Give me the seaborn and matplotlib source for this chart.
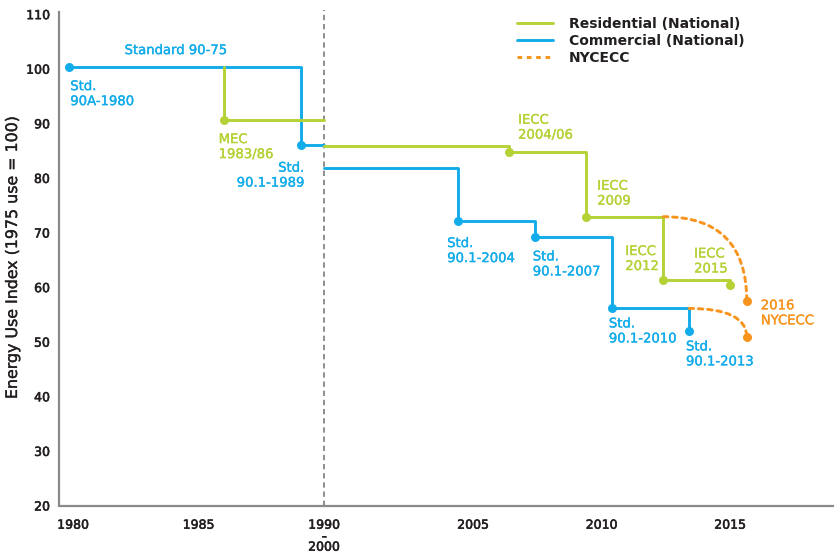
"""
Energy Use Index of national and NYC energy codes, 1980-2016
"""
import numpy as np
import pandas as pd
import matplotlib
matplotlib.use('Agg')
import matplotlib.pyplot as plt
import matplotlib.patheffects as pe
import seaborn as sns
from matplotlib.lines import Line2D

sns.set_theme(style='white')
plt.rcParams['font.family'] = ['DejaVu Sans']

GREEN = '#b4d235'
BLUE = '#12acea'
ORANGE = '#f7941d'
GREY = '#8a8a8a'
INK = '#231f20'

# ---- data (x = year, y = energy use index) ----
# residential (national): step path, left block 1980-1990 and right block 2000+
res_left_year = [1986.0, 1986.0, 1990.0]
res_left_eui = [100.3, 90.6, 90.6]
res_right_year = [2000.0, 2006.4, 2009.4, 2012.4, 2015.0]
res_right_eui = [85.8, 84.8, 72.9, 61.3, 60.3]
res_code_year = [1986.0, 2006.4, 2009.4, 2012.4, 2015.0]
res_code_eui = [90.6, 84.8, 72.9, 61.3, 60.3]
res_code_names = ['MEC\n1983/86', 'IECC\n2004/06', 'IECC\n2009', 'IECC\n2012', 'IECC\n2015']

# commercial (national)
com_left_year = [1979.85, 1989.1, 1990.0]
com_left_eui = [100.3, 86.1, 86.1]
com_right_year = [2000.0, 2004.5, 2007.4, 2010.4, 2013.4]
com_right_eui = [81.9, 72.1, 69.1, 56.1, 51.9]
com_code_year = [1979.85, 1989.1, 2004.5, 2007.4, 2010.4, 2013.4]
com_code_eui = [100.3, 86.1, 72.1, 69.1, 56.1, 51.9]
com_code_names = ['Std.\n90A-1980', 'Std.\n90.1-1989', 'Std.\n90.1-2004',
                  'Std.\n90.1-2007', 'Std.\n90.1-2010', 'Std.\n90.1-2013']

# NYCECC 2016 branches off the 2012 residential / 2010 commercial levels
nyc_from_year = [2012.4, 2013.4]
nyc_from_eui = [72.9, 56.1]
nyc_year = [2015.65, 2015.65]
nyc_eui = [57.4, 50.8]

tick_years = [1980, 1985, 1990, 2005, 2010, 2015]
tick_labels = ['1980', '1985', '1990\n-\n2000', '2005', '2010', '2015']
y_ticks = [20, 30, 40, 50, 60, 70, 80, 90, 100, 110]

# broken axis: 1990 and 2000 share the same spot
YEAR_KNOTS = [1970, 1990, 2000, 2005, 2015, 2030]
POS_KNOTS = [1970, 1990, 1990, 1995.94, 2006.18, 2021.54]


def pos(years):
    return np.interp(years, YEAR_KNOTS, POS_KNOTS)


def steps(years, eui, part):
    return pd.DataFrame({'x': pos(years), 'eui': eui, 'part': part})


def medium(color, w=0.25):
    # DejaVu has no medium weight, thicken the book face a little
    return [pe.withStroke(linewidth=w, foreground=color)]


fig = plt.figure(figsize=(8.4, 5.53), dpi=100)
ax = fig.add_axes([59 / 840, 47.5 / 553, 774 / 840, 493 / 553])

res_df = pd.concat([steps(res_left_year, res_left_eui, 'a'),
                    steps(res_right_year, res_right_eui, 'b')])
com_df = pd.concat([steps(com_left_year, com_left_eui, 'a'),
                    steps(com_right_year, com_right_eui, 'b')])

for df, col in [(com_df, BLUE), (res_df, GREEN)]:
    sns.lineplot(data=df, x='x', y='eui', units='part', estimator=None, sort=False,
                 drawstyle='steps-post', color=col, lw=2.1, ax=ax, legend=False)

# NYCECC dotted branches
for x0, y0, x1, y1 in zip(nyc_from_year, nyc_from_eui, nyc_year, nyc_eui):
    ax.annotate('', xy=(pos(x1), y1), xytext=(pos(x0), y0),
                arrowprops=dict(arrowstyle='-', color=ORANGE, lw=2.1,
                                linestyle=(0, (1.6, 1.6)), shrinkA=0, shrinkB=0,
                                connectionstyle='angle3,angleA=0,angleB=90'))

sns.scatterplot(x=pos(com_code_year), y=com_code_eui, color=BLUE, s=42, linewidth=0, ax=ax, zorder=4)
sns.scatterplot(x=pos(res_code_year), y=res_code_eui, color=GREEN, s=42, linewidth=0, ax=ax, zorder=4)
sns.scatterplot(x=pos(nyc_year), y=nyc_eui, color=ORANGE, s=42, linewidth=0, ax=ax, zorder=4)

# break marker
ax.axvline(pos(1990), color='#707070', lw=1.1, ls=(0, (3.5, 2.5)), ymax=1.006, clip_on=False, zorder=1)

# ---- labels ----
lab = dict(fontsize=9.5, textcoords='offset pixels', linespacing=1.2)

ax.annotate('Standard 90-75', xy=(pos(1979.85), 100.3), xytext=(107, 13), color=BLUE,
            ha='center', va='baseline', path_effects=medium(BLUE), **lab)

com_offsets = [(1, -13), (3, -17), (-11, -16), (-2, -13), (-3, -9), (-3, -9)]
for name, yr, v, (dx, dy) in zip(com_code_names, com_code_year, com_code_eui, com_offsets):
    ha = 'right' if name.endswith('1989') else 'left'
    ax.annotate(name, xy=(pos(yr), v), xytext=(dx, dy), color=BLUE, ha=ha, va='top',
                multialignment=ha, path_effects=medium(BLUE), **lab)

res_offsets = [(-5, -13), (9, 38), (11, 37), (-38, 35), (-36, 38)]
for name, yr, v, (dx, dy) in zip(res_code_names, res_code_year, res_code_eui, res_offsets):
    ax.annotate(name, xy=(pos(yr), v), xytext=(dx, dy), color=GREEN, ha='left', va='top',
                path_effects=medium(GREEN), **lab)

ax.annotate('2016\nNYCECC', xy=(pos(nyc_year[0]), nyc_eui[0]), xytext=(14, 2), color=ORANGE,
            ha='left', va='top', path_effects=medium(ORANGE), **lab)

# ---- axes ----
ax.set_xlim(1979.44, 2010.28)
ax.set_ylim(20, 110.3)
ax.set_xticks(pos(tick_years))
ax.set_xticklabels(tick_labels, fontsize=9, color=INK, linespacing=0.8)
ax.set_yticks(y_ticks)
ax.set_yticklabels([str(t) for t in y_ticks], fontsize=9, color=INK)
for t in ax.get_xticklabels() + ax.get_yticklabels():
    t.set_path_effects(medium(INK, 0.4))
ax.tick_params(axis='x', length=0, pad=9.5)
ax.tick_params(axis='y', length=0, pad=6.5)
ax.set_xlabel('')
ax.set_ylabel('Energy Use Index (1975 use = 100)', fontsize=11.4, color=INK,
              path_effects=medium(INK))
ax.yaxis.set_label_coords(-0.0504, 0.504)
for side in ['top', 'right']:
    ax.spines[side].set_visible(False)
for side in ['left', 'bottom']:
    ax.spines[side].set_color(GREY)
    ax.spines[side].set_linewidth(1.6)
ax.grid(False)

handles = [Line2D([], [], color=GREEN, lw=2.1),
           Line2D([], [], color=BLUE, lw=2.1),
           Line2D([], [], color=ORANGE, lw=2.1, ls=(0, (1.6, 1.6)))]
leg = ax.legend(handles, ['Residential (National)', 'Commercial (National)', 'NYCECC'],
                loc='upper left', bbox_to_anchor=(517 / 840, 1 - 16.5 / 553),
                bbox_transform=fig.transFigure, frameon=False, borderpad=0, borderaxespad=0,
                handlelength=2.6, handletextpad=1.15, labelspacing=0.23,
                prop={'size': 10, 'weight': 'bold'})
for t in leg.get_texts():
    t.set_color(INK)

fig.savefig('out.png', dpi=100, facecolor='white')
